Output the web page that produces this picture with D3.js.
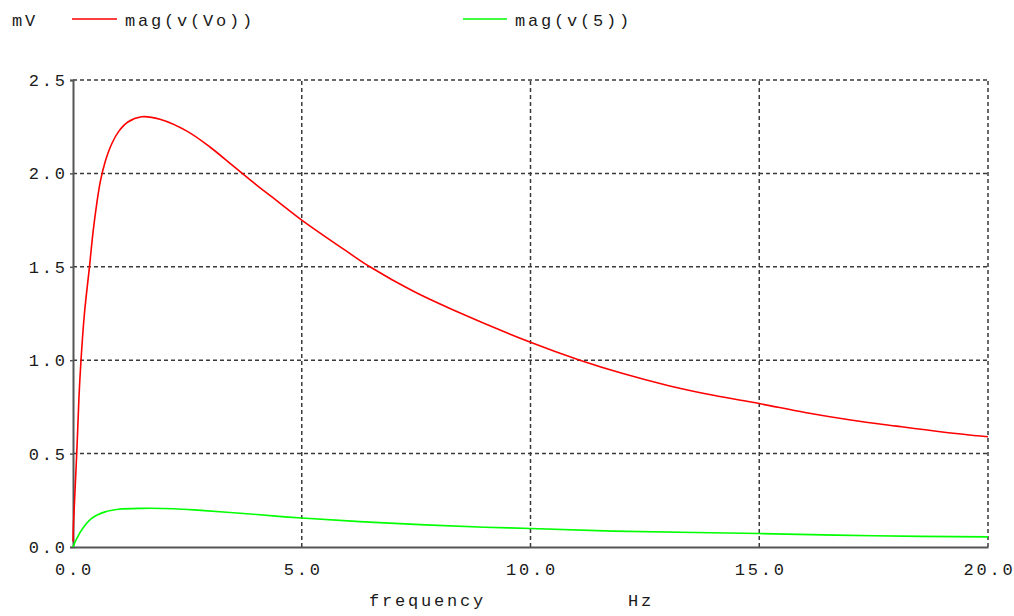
<!DOCTYPE html>
<html>
<head>
<meta charset="utf-8">
<script src="https://cdn.jsdelivr.net/npm/d3@7"></script>
<style>
html,body{margin:0;padding:0;background:#fff;}
svg{display:block;}
text{font-family:"Liberation Mono","Courier New",monospace;font-size:17px;fill:#1a1a1a;letter-spacing:2.8px;}
</style>
</head>
<body>
<svg id="chart" width="1014" height="616"></svg>
<script>
// ---- data ----
const xTicks = [0, 5, 10, 15, 20];
const xTickLabels = ["0.0", "5.0", "10.0", "15.0", "20.0"];
const yTicks = [0, 0.5, 1.0, 1.5, 2.0, 2.5];
const yTickLabels = ["0.0", "0.5", "1.0", "1.5", "2.0", "2.5"];
const seriesNames = ["mag(v(Vo))", "mag(v(5))"];
const unitLabel = "mV";
const xLabel = "frequency";
const xUnit = "Hz";

const vo = [
  [0, 0.03], [0.01, 0.12], [0.04, 0.28], [0.09, 0.55], [0.13, 0.8], [0.175, 1.0],
  [0.25, 1.25], [0.36, 1.5], [0.44, 1.69], [0.52, 1.84], [0.6, 1.96], [0.7, 2.06],
  [0.85, 2.16], [1.0, 2.225], [1.2, 2.275], [1.5, 2.303], [1.9, 2.29], [2.5, 2.225],
  [3.0, 2.14], [3.5, 2.04], [4.0, 1.94], [4.5, 1.845], [5.0, 1.75], [6.0, 1.58],
  [6.49, 1.5], [7.43, 1.37], [8.3, 1.27], [10.0, 1.096], [11.08, 1.0], [12, 0.93],
  [13, 0.865], [14, 0.812], [15, 0.768], [16, 0.72], [17, 0.68], [18, 0.647],
  [19, 0.616], [20, 0.59]
];
const v5 = [
  [0, 0], [0.07, 0.04], [0.2, 0.095], [0.4, 0.152], [0.7, 0.188], [1.0, 0.202],
  [1.5, 0.207], [2.2, 0.205], [2.8, 0.196], [3.65, 0.181], [4.5, 0.164], [5.0, 0.155],
  [6.8, 0.129], [9.0, 0.106], [10.0, 0.099], [11.8, 0.085], [15.0, 0.072],
  [17.5, 0.06], [20.0, 0.054]
];

// ---- layout ----
const svg = d3.select("#chart");
const L = 73, R = 988, T = 80, B = 547;
const x = d3.scaleLinear().domain([0, 20]).range([L, R]);
const y = d3.scaleLinear().domain([0, 2.5]).range([B, T]);
const LS = 2.8;

// grid (dashed)
const grid = svg.append("g").attr("stroke", "#3a3a3a").attr("stroke-width", 1.5).attr("stroke-dasharray", "4,3");
grid.selectAll(".gx").data(xTicks.filter(d => d > 0)).enter().append("line")
  .attr("x1", d => x(d)).attr("x2", d => x(d)).attr("y1", B).attr("y2", T);
grid.selectAll(".gy").data(yTicks.filter(d => d > 0)).enter().append("line")
  .attr("y1", d => y(d)).attr("y2", d => y(d)).attr("x1", L).attr("x2", R);

// axes via d3
const yAxis = d3.axisLeft(y).tickValues(yTicks).tickSize(3).tickFormat("");
const xAxis = d3.axisBottom(x).tickValues(xTicks).tickSize(0).tickFormat("");
const gy = svg.append("g").attr("transform", `translate(${L},0)`).call(yAxis);
const gx = svg.append("g").attr("transform", `translate(0,${B})`).call(xAxis);
[gx, gy].forEach(g => {
  g.select(".domain").attr("stroke", "#555").attr("stroke-width", 2);
  g.selectAll(".tick line").attr("stroke", "#555").attr("stroke-width", 1.5);
});

// tick labels
svg.selectAll(".ylab").data(yTicks).enter().append("text")
  .attr("x", 65 + LS).attr("y", d => y(d) + 6).attr("text-anchor", "end")
  .text((d, i) => yTickLabels[i]);
svg.selectAll(".xlab").data(xTicks).enter().append("text")
  .attr("x", d => x(d) + LS / 2).attr("y", 575).attr("text-anchor", "middle")
  .text((d, i) => xTickLabels[i]);

// axis titles
svg.append("text").attr("x", 369).attr("y", 606).text(xLabel);
svg.append("text").attr("x", 628).attr("y", 606).text(xUnit);

// lines
const line = d3.line().x(d => x(d[0])).y(d => y(d[1])).curve(d3.curveCatmullRom.alpha(0.5));
svg.append("path").datum(v5).attr("d", line).attr("fill", "none")
  .attr("stroke", "#00ff00").attr("stroke-width", 1.6);
svg.append("path").datum(vo).attr("d", line).attr("fill", "none")
  .attr("stroke", "#ff0000").attr("stroke-width", 1.6);

// legend
svg.append("text").attr("x", 12).attr("y", 26).text(unitLabel);
const legend = [
  {name: seriesNames[0], color: "#ff0000", x1: 72, x2: 117, tx: 125},
  {name: seriesNames[1], color: "#00ff00", x1: 463, x2: 507, tx: 515}
];
legend.forEach(l => {
  svg.append("line").attr("x1", l.x1).attr("x2", l.x2).attr("y1", 19).attr("y2", 19)
    .attr("stroke", l.color).attr("stroke-width", 1.5);
  svg.append("text").attr("x", l.tx).attr("y", 26).text(l.name);
});
</script>
</body>
</html>
